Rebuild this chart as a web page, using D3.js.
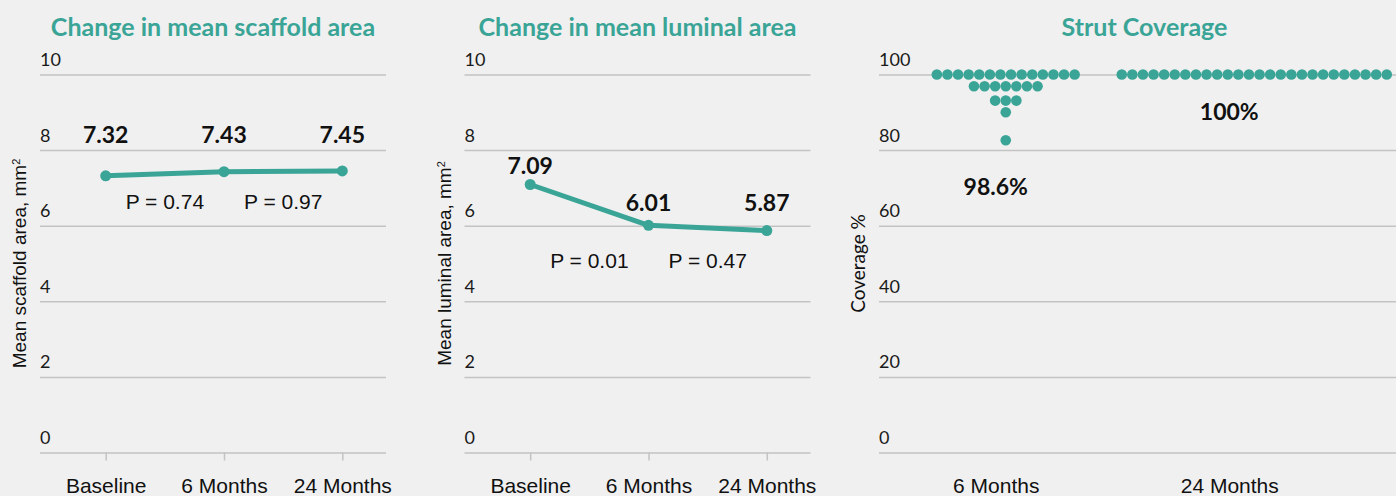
<!DOCTYPE html>
<html>
<head>
<meta charset="utf-8">
<style>
  body { margin: 0; background: #f0f0f0; }
  svg { display: block; }
</style>
</head>
<body>
<svg id="chart"></svg>
<script src="https://cdn.jsdelivr.net/npm/d3@7"></script>
<script>

// values
var categories = ['Baseline', '6 Months', '24 Months'];
var scaffoldArea = [7.32, 7.43, 7.45];
var luminalArea = [7.09, 6.01, 5.87];
var scaffoldP = ['P = 0.74', 'P = 0.97'];
var luminalP = ['P = 0.01', 'P = 0.47'];
var areaTicks = [0, 2, 4, 6, 8, 10];

var coverageCategories = ['6 Months', '24 Months'];
var coverage6m = [100, 100, 100, 100, 100, 100, 100, 100, 100, 100, 100, 100, 100, 100,
                  96.9, 96.9, 96.9, 96.9, 96.9, 96.9, 96.9,
                  93.1, 93.1, 93.1,
                  90,
                  82.6];
var coverage24m = [100, 100, 100, 100, 100, 100, 100, 100, 100, 100, 100, 100, 100,
                   100, 100, 100, 100, 100, 100, 100, 100, 100, 100, 100, 100, 100];
var coverageMeans = ['98.6%', '100%'];
var coverageTicks = [0, 20, 40, 60, 80, 100];

var teal = '#3aa597',
    gridColor = '#c3c3c3',
    calibri = 'Lato, "Open Sans", sans-serif',
    arial = '"Liberation Sans", Arial, sans-serif';

var svg = d3.select('#chart').attr('width', 1396).attr('height', 496);

var yTop = 74.5, yBottom = 452.5;

function yGrid(g, y, ticks, x0, x1) {
    var ax = g.append('g')
        .attr('transform', 'translate(' + x0 + ',0)')
        .call(d3.axisRight(y).tickValues(ticks).tickSize(x1 - x0));
    ax.select('.domain').remove();
    ax.selectAll('line').attr('stroke', gridColor).attr('stroke-width', 1.5);
    ax.selectAll('text')
        .attr('x', 0).attr('dy', -9)
        .attr('text-anchor', 'start')
        .style('font-family', calibri).style('font-size', '18px')
        .attr('fill', '#1a1a1a');
}

function xAxis(g, x, tick) {
    var ax = g.append('g')
        .attr('transform', 'translate(0,' + yBottom + ')')
        .call(d3.axisBottom(x).tickSize(tick));
    ax.select('.domain').remove();
    ax.selectAll('line').attr('stroke', gridColor).attr('stroke-width', 1.5);
    ax.selectAll('text')
        .attr('y', 40.5).attr('dy', 0)
        .style('font-family', arial).style('font-size', '21px')
        .attr('fill', '#111');
}

function title(g, txt, cx) {
    g.append('text')
        .attr('x', cx).attr('y', 36)
        .attr('text-anchor', 'middle')
        .style('font-family', calibri).style('font-size', '25px').style('font-weight', 'bold')
        .attr('fill', teal)
        .text(txt);
}

function yTitle(g, txt, x0, sup, font) {
    var t = g.append('text')
        .attr('transform', 'translate(' + (x0 - 14) + ',' + ((yTop + yBottom) / 2) + ') rotate(-90)')
        .attr('text-anchor', 'middle')
        .style('font-family', font).style('font-size', '19px')
        .attr('fill', '#111')
        .text(txt);
    if (sup) {
        t.append('tspan').attr('baseline-shift', 'super').style('font-size', '11px').text(sup);
    }
}

// the two line panels
var linePanels = [
    { dx: 0, name: 'Change in mean scaffold area', ytitle: 'Mean scaffold area, mm',
      values: scaffoldArea, pvals: scaffoldP, pLevel: 6.45, lift: [33, 29, 28] },
    { dx: 424.5, name: 'Change in mean luminal area', ytitle: 'Mean luminal area, mm',
      values: luminalArea, pvals: luminalP, pLevel: 4.87, lift: [10, 14.5, 19.5] }
];

var yArea = d3.scaleLinear().domain([0, 10]).range([yBottom, yTop]);

linePanels.forEach(function(p) {
    var x0 = 40 + p.dx, x1 = 386 + p.dx;
    var g = svg.append('g');
    var x = d3.scalePoint().domain(categories).range([105.7 + p.dx, 342.3 + p.dx]);

    yGrid(g, yArea, areaTicks, x0, x1);
    xAxis(g, x, 8);
    title(g, p.name, (x0 + x1) / 2);
    yTitle(g, p.ytitle, x0, '2', arial);

    var pts = p.values.map(function(v, i) { return [categories[i], v]; });

    g.append('path').datum(pts)
        .attr('d', d3.line()
            .x(function(d) { return x(d[0]); })
            .y(function(d) { return yArea(d[1]); }))
        .attr('fill', 'none')
        .attr('stroke', teal)
        .attr('stroke-width', 5)
        .attr('stroke-linejoin', 'round');

    g.selectAll('.dot').data(pts).enter().append('circle')
        .attr('cx', function(d) { return x(d[0]); })
        .attr('cy', function(d) { return yArea(d[1]); })
        .attr('r', 5.5)
        .attr('fill', teal);

    g.selectAll('.val').data(pts).enter().append('text')
        .attr('x', function(d) { return x(d[0]); })
        .attr('y', function(d, i) { return yArea(d[1]) - p.lift[i]; })
        .attr('text-anchor', 'middle')
        .style('font-family', calibri).style('font-size', '23px').style('font-weight', 'bold')
        .attr('fill', '#111')
        .text(function(d) { return d[1].toFixed(2); });

    g.selectAll('.pval').data(p.pvals).enter().append('text')
        .attr('x', function(d, i) { return (x(categories[i]) + x(categories[i + 1])) / 2; })
        .attr('y', yArea(p.pLevel))
        .attr('text-anchor', 'middle')
        .style('font-family', arial).style('font-size', '21px')
        .attr('fill', '#111')
        .text(function(d) { return d; });
});

// strut coverage panel
var g3 = svg.append('g');
var c0 = 879, c1 = 1410;
var yCov = d3.scaleLinear().domain([0, 100]).range([yBottom, yTop]);
var xCov = d3.scalePoint().domain(coverageCategories).range([879, 1346]).padding(0.5);

yGrid(g3, yCov, coverageTicks, c0, c1);
xAxis(g3, xCov, 0);
title(g3, 'Strut Coverage', (c0 + c1) / 2);
yTitle(g3, 'Coverage %', c0, null, calibri);

var swarmStep = 10.6, swarmShift = [10, 25];
var swarm = [];
[coverage6m, coverage24m].forEach(function(vals, ci) {
    var rows = d3.group(vals, function(v) { return v; });
    rows.forEach(function(row, v) {
        row.forEach(function(val, i) {
            swarm.push({
                cx: xCov(coverageCategories[ci]) + swarmShift[ci] + (i - (row.length - 1) / 2) * swarmStep,
                v: val
            });
        });
    });
});

g3.selectAll('.swarm').data(swarm).enter().append('circle')
    .attr('cx', function(d) { return d.cx; })
    .attr('cy', function(d) { return yCov(d.v); })
    .attr('r', 5.3)
    .attr('fill', teal);

var meanLevel = [68, 88];
g3.selectAll('.mean').data(coverageMeans).enter().append('text')
    .attr('x', function(d, i) { return xCov(coverageCategories[i]); })
    .attr('y', function(d, i) { return yCov(meanLevel[i]); })
    .attr('text-anchor', 'middle')
    .style('font-family', calibri).style('font-size', '23px').style('font-weight', 'bold')
    .attr('fill', '#111')
    .text(function(d) { return d; });

</script>
</body>
</html>
